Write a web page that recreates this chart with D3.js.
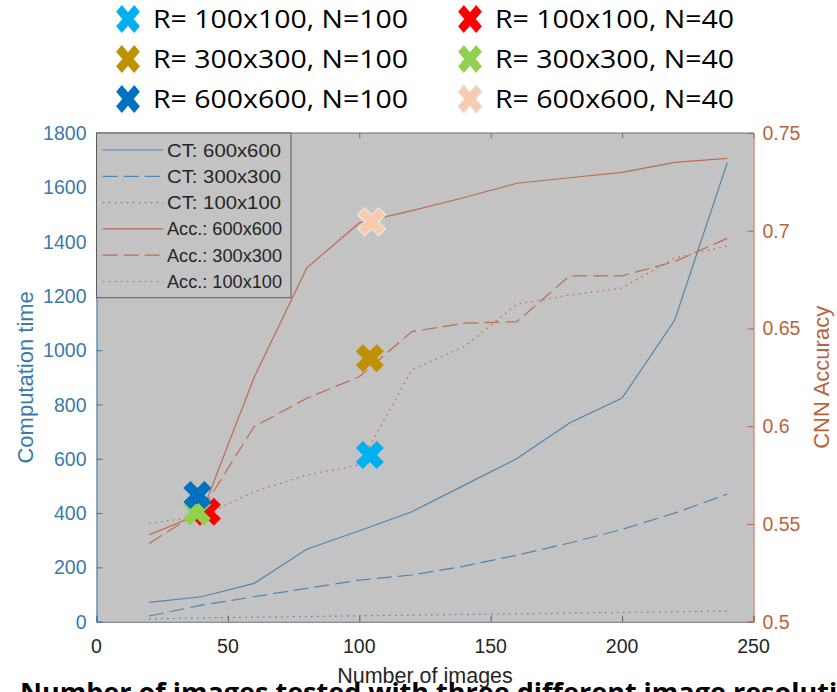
<!DOCTYPE html>
<html>
<head>
<meta charset="utf-8">
<script src="https://cdn.jsdelivr.net/npm/d3@7"></script>
<style>
  html, body { margin: 0; padding: 0; background: #ffffff; }
  svg { display: block; }
</style>
</head>
<body>
<svg id="chart" width="837" height="692"></svg>
<script>
// ---------------- DATA ----------------
const nImages = [20, 40, 60, 80, 100, 120, 140, 160, 180, 200, 220, 240];
const ct600 = [71, 92, 141, 267, 335, 405, 503, 601, 732, 824, 1110, 1690];
const ct300 = [21, 61, 92, 123, 153, 172, 205, 245, 290, 340, 400, 470];
const ct100 = [10, 14, 17, 19, 22, 24, 27, 29, 32, 34, 37, 39];
const acc600 = [0.5444, 0.5555, 0.625, 0.681, 0.704, 0.7103, 0.717, 0.7243, 0.7271, 0.7299, 0.735, 0.737];
const acc300 = [0.540, 0.557, 0.5998, 0.6143, 0.6253, 0.6484, 0.6527, 0.6535, 0.6769, 0.6769, 0.6842, 0.6961];
const acc100 = [0.5503, 0.554, 0.5665, 0.575, 0.5802, 0.6288, 0.6407, 0.6625, 0.6671, 0.6706, 0.686, 0.6922];

const seriesNames = ["CT: 600x600", "CT: 300x300", "CT: 100x100", "Acc.: 600x600", "Acc.: 300x300", "Acc.: 100x100"];

const markerNames = ["R= 100x100, N=100", "R= 300x300, N=100", "R= 600x600, N=100",
                     "R= 100x100, N=40", "R= 300x300, N=40", "R= 600x600, N=40"];
const markerColors = ["#00B0F0", "#BF9000", "#0070C0", "#FF0000", "#92D050", "#F8CBAD"];
const markerX = [104, 104, 38.4, 42, 38.2, 104.7];
const markerAcc = [0.5853, 0.6348, 0.5648, 0.5563, 0.5563, 0.7046];
const markerDrawOrder = [5, 0, 1, 3, 4, 2];

const xTicks = [0, 50, 100, 150, 200, 250];
const ctTicks = [0, 200, 400, 600, 800, 1000, 1200, 1400, 1600, 1800];
const accTicks = [0.5, 0.55, 0.6, 0.65, 0.7, 0.75];

const xTitle = "Number of images";
const ctTitle = "Computation time";
const accTitle = "CNN Accuracy";
const captionText = "Number of images tested with three different image resolutions";

// ---------------- LAYOUT ----------------
const svg = d3.select("#chart");
const L = 96.5, R = 753.5, T = 133, B = 621.7;
const blue = "#3A79AC", blueLine = "#4B87B7";
const orange = "#B9633D", orangeLine = "#BF6D4C";
const bg = "#C3C3C3";
const tickFont = "'Liberation Sans', Arial, Helvetica, sans-serif";

const x = d3.scaleLinear().domain([0, 250]).range([L, R]);
const yCT = d3.scaleLinear().domain([0, 1800]).range([B, T]);
const yAcc = d3.scaleLinear().domain([0.5, 0.75]).range([B, T]);

// plot background
svg.append("rect").attr("x", L).attr("y", T).attr("width", R - L).attr("height", B - T).attr("fill", bg);

// X-shaped marker path
function xPath(ext, thick) {
  const b = thick / 2;
  const a = ext * Math.SQRT2 - b;
  const pts = [[b,-a],[b,-b],[a,-b],[a,b],[b,b],[b,a],[-b,a],[-b,b],[-a,b],[-a,-b],[-b,-b],[-b,-a]];
  const c = Math.SQRT1_2;
  return "M" + pts.map(([px, py]) => [(px - py) * c, (px + py) * c].map(v => v.toFixed(2)).join(",")).join("L") + "Z";
}

// ---------------- LINES ----------------
const lineSpecs = [
  { vals: ct600, scale: yCT, color: blueLine, dash: null },
  { vals: ct300, scale: yCT, color: blueLine, dash: "15,6" },
  { vals: ct100, scale: yCT, color: blueLine, dash: "1.6,4.4" },
  { vals: acc600, scale: yAcc, color: orangeLine, dash: null },
  { vals: acc300, scale: yAcc, color: orangeLine, dash: "15,6" },
  { vals: acc100, scale: yAcc, color: orangeLine, dash: "1.6,4.4" }
];

const plotG = svg.append("g");
lineSpecs.forEach(s => {
  const gen = d3.line().x((d, i) => x(nImages[i])).y(d => s.scale(d));
  plotG.append("path")
    .attr("d", gen(s.vals))
    .attr("fill", "none")
    .attr("stroke", s.color)
    .attr("stroke-width", 1.2)
    .attr("stroke-dasharray", s.dash);
});

// ---------------- AXES ----------------
svg.append("line").attr("x1", L).attr("x2", R).attr("y1", T).attr("y2", T).attr("stroke", "#6E6E6E").attr("stroke-width", 1);
const topAxis = svg.append("g").attr("transform", `translate(0,${T})`)
  .call(d3.axisBottom(x).tickValues(xTicks).tickSize(5).tickFormat(""));
topAxis.select(".domain").remove();
topAxis.selectAll("line").attr("stroke", "#6E6E6E");

const xAxis = svg.append("g").attr("transform", `translate(0,${B})`)
  .call(d3.axisTop(x).tickValues(xTicks).tickSize(6).tickFormat(""));
xAxis.select(".domain").attr("stroke", "#5E5E5E");
xAxis.selectAll("line").attr("stroke", "#5E5E5E");
svg.append("g").selectAll("text").data(xTicks).join("text")
  .attr("x", d => x(d)).attr("y", 653)
  .attr("text-anchor", "middle")
  .attr("font-family", tickFont).attr("font-size", 19.5).attr("fill", "#262626")
  .text(d => d);

const leftAxis = svg.append("g").attr("transform", `translate(${L},0)`)
  .call(d3.axisRight(yCT).tickValues(ctTicks).tickSize(6).tickFormat(""));
leftAxis.select(".domain").attr("stroke", blue);
leftAxis.selectAll("line").attr("stroke", blue);
svg.append("g").selectAll("text").data(ctTicks).join("text")
  .attr("x", L - 10).attr("y", d => yCT(d) + 7)
  .attr("text-anchor", "end")
  .attr("font-family", tickFont).attr("font-size", 19.5).attr("fill", blue)
  .text(d => d);

const rightAxis = svg.append("g").attr("transform", `translate(${R},0)`)
  .call(d3.axisLeft(yAcc).tickValues(accTicks).tickSize(6).tickFormat(""));
rightAxis.select(".domain").attr("stroke", orange);
rightAxis.selectAll("line").attr("stroke", orange);
svg.append("g").selectAll("text").data(accTicks).join("text")
  .attr("x", R + 9).attr("y", d => yAcc(d) + 7)
  .attr("text-anchor", "start")
  .attr("font-family", tickFont).attr("font-size", 19.5).attr("fill", orange)
  .text(d => d3.format("")(d));

// axis titles
svg.append("text").attr("x", (L + R) / 2).attr("y", 683)
  .attr("text-anchor", "middle").attr("font-family", tickFont).attr("font-size", 21.5).attr("fill", "#262626")
  .text(xTitle);
svg.append("text").attr("transform", `translate(33,${(T + B) / 2}) rotate(-90)`)
  .attr("text-anchor", "middle").attr("font-family", tickFont).attr("font-size", 22).attr("fill", blue)
  .text(ctTitle);
svg.append("text").attr("transform", `translate(829,${(T + B) / 2}) rotate(-90)`)
  .attr("text-anchor", "middle").attr("font-family", tickFont).attr("font-size", 22).attr("fill", orange)
  .text(accTitle);

// ---------------- INNER LEGEND ----------------
const lg = svg.append("g");
lg.append("rect").attr("x", L).attr("y", T).attr("width", 194.5).attr("height", 164.7)
  .attr("fill", bg).attr("stroke", "#5A5A5A").attr("stroke-width", 1);
const legRowY = d3.range(6).map(i => 150 + i * 26.3);
seriesNames.forEach((name, i) => {
  const s = lineSpecs[i];
  lg.append("line").attr("x1", 102.7).attr("x2", 163.3).attr("y1", legRowY[i]).attr("y2", legRowY[i])
    .attr("stroke", s.color).attr("stroke-width", 1.2).attr("stroke-dasharray", s.dash);
  lg.append("text").attr("x", 167).attr("y", legRowY[i] + 6.5)
    .attr("font-family", tickFont).attr("font-size", 18).attr("fill", "#262626")
    .attr("textLength", i < 3 ? 114 : 115).attr("lengthAdjust", "spacingAndGlyphs")
    .text(name);
});

// ---------------- MARKERS ----------------
const mPath = xPath(14, 10);
markerDrawOrder.forEach(i => {
  svg.append("path").attr("d", mPath)
    .attr("transform", `translate(${x(markerX[i])},${yAcc(markerAcc[i])})`)
    .attr("fill", markerColors[i])
    .attr("stroke", i === 5 ? "#E4E4E4" : "none").attr("stroke-width", i === 5 ? 1.5 : 0);
});

// ---------------- TOP LEGEND ----------------
const topG = svg.append("g");
const colX = [128, 470];
const colTextX = [153, 495];
const colTextW = [255, 239];
const rowBase = [28, 68, 108];
markerNames.forEach((name, i) => {
  const col = Math.floor(i / 3), row = i % 3;
  topG.append("path").attr("d", xPath(14, 9.5))
    .attr("transform", `translate(${colX[col]},${rowBase[row] - 9}) scale(0.85,1)`)
    .attr("fill", markerColors[i])
    .attr("stroke", i === 5 ? "#E4E4E4" : "none").attr("stroke-width", i === 5 ? 1.5 : 0);
  topG.append("text").attr("x", colTextX[col]).attr("y", rowBase[row])
    .attr("font-family", "'Open Sans', Lato, sans-serif").attr("font-size", 25).attr("fill", "#000")
    .attr("textLength", colTextW[col]).attr("lengthAdjust", "spacingAndGlyphs")
    .text(name);
});

// ---------------- CAPTION (cut off at the bottom, as in the reference) ----------------
svg.append("text").attr("x", 20).attr("y", 702)
  .attr("font-family", "'Open Sans', Lato, sans-serif").attr("font-weight", "bold").attr("font-size", 27).attr("fill", "#000")
  .text(captionText);
</script>
</body>
</html>
